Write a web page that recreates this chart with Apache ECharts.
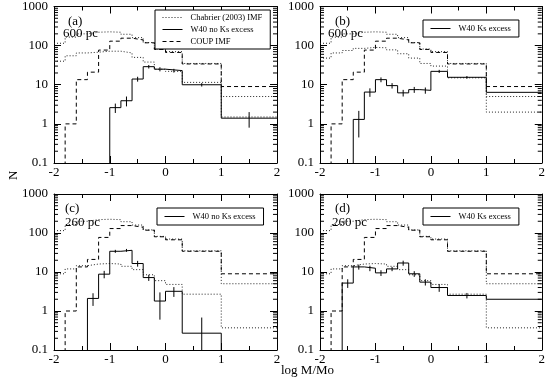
<!DOCTYPE html>
<html><head><meta charset="utf-8">
<script src="https://cdn.jsdelivr.net/npm/echarts@6/dist/echarts.min.js"></script>
<style>html,body{margin:0;padding:0;background:#fff}#c{width:548px;height:385px}</style>
</head><body><div id="c"></div>
<script>
// bin edges (log M/Mo) and bin centres
const edges = [-2,-1.8,-1.6,-1.4,-1.2,-1.0,-0.8,-0.6,-0.4,-0.2,0,0.3,1,2];
const centers = [-1.9,-1.7,-1.5,-1.3,-1.1,-0.9,-0.7,-0.5,-0.3,-0.1,0.15,0.65,1.5];
// COUP IMF (dashed), same in all panels
const coupIMF = [0,1,13.5,21,77,130,155,140,118,80,67,34,9];
// Chabrier (2003) IMF scaled to COUP (upper dotted)
const chabrierCOUP = [115,165,200,220,225,220,195,160,120,82,70,35,5];
// Chabrier scaled to W40 samples (lower dotted)
const chabrierA = [40,55,65,68,72,72,65,50,38,25,22,11.5,1.5];
const chabrierB = [48,65,75,85,90,88,78,62,48,35,30,15,2];
const chabrierCD = [9,12,14.5,16,16.5,16,14,11.5,8.5,6,4.8,2.7,0.37];
// W40 histograms and error bars
const w40a = [0,0,0,0,0,2.6,3.9,14,29,25,23,10,1.4];
const w40aErr = [0,0,0,0,0,0.7,1.1,2,3,3,2.5,1,0.6];
const w40b = [0,0,0,1.3,6.5,13.5,9.5,6.2,7.5,7.2,22,15.5,6.4];
const w40bErr = [0,0,0,0.85,1.6,1.9,1.5,1.2,1.3,1.3,2,1.2,0];
const w40c = [0,0,0,2.1,8.8,34,36,16.5,7.2,1.8,3.2,0.27,0];
const w40cErr = [0,0,0,0.75,1.9,3,3,2.8,1.3,1.2,0.9,0.41,0];
const w40d = [0,0,5.2,13.5,12.5,9.5,12,17,9,5.5,4,2.5,2.0];
const w40dErr = [0,0,1.3,2,2,1.6,1.5,2.5,1.5,1,0.9,0.4,0];
// axis ticks
const xTicks = [-2,-1,0,1,2];
const yTicks = [0.1,1,10,100,1000];
const minorMult = [2,3,4,5,6,7,8,9];

const panelNames = ['(a)','(b)','(c)','(d)'];
const panelDist = ['600 pc','600 pc','260 pc','260 pc'];
const w40Names = ['W40 no Ks excess','W40 Ks excess','W40 no Ks excess','W40 Ks excess'];

const FONT = '"Liberation Serif","DejaVu Serif",serif';
const FLOOR = 1e-4;
const grids = [
  {left:54, top:6, width:223, height:157},
  {left:320, top:6, width:226, height:157},
  {left:54, top:194, width:223, height:156},
  {left:320, top:194, width:226, height:156}
];
const panels = [
  {w:w40a, e:w40aErr, low:chabrierA},
  {w:w40b, e:w40bErr, low:chabrierB},
  {w:w40c, e:w40cErr, low:chabrierCD},
  {w:w40d, e:w40dErr, low:chabrierCD}
];

function stepData(vals){
  return edges.map((x,i)=>[x, Math.max(vals[Math.min(i, vals.length-1)], FLOOR)]);
}
const minorVals = [];
for (let k=0;k<yTicks.length-1;k++) minorMult.forEach(m=>minorVals.push(yTicks[k]*m));

const xAxes=[], yAxes=[], series=[];
grids.forEach((g,gi)=>{
  const xBase = {type:'value', gridIndex:gi, min:xTicks[0], max:xTicks[xTicks.length-1], interval:1,
    axisLine:{show:true, onZero:false, lineStyle:{color:'#000', width:1}},
    axisTick:{show:true, inside:true, length:7, lineStyle:{color:'#000'}},
    minorTick:{show:true, splitNumber:2, length:4, lineStyle:{color:'#000'}},
    splitLine:{show:false}, minorSplitLine:{show:false}};
  xAxes.push(Object.assign({}, xBase, {position:'bottom',
    axisLabel:{show:true, margin:3, color:'#000', fontFamily:FONT, fontSize:13,
      formatter:v=>String(v)}}));
  xAxes.push(Object.assign({}, xBase, {position:'top', axisLabel:{show:false}}));
  const yBase = {type:'log', logBase:10, gridIndex:gi, min:yTicks[0], max:yTicks[yTicks.length-1],
    axisLine:{show:true, onZero:false, lineStyle:{color:'#000', width:1}},
    axisTick:{show:true, inside:true, length:7, lineStyle:{color:'#000'}},
    splitLine:{show:false}};
  yAxes.push(Object.assign({}, yBase, {position:'left',
    axisLabel:{show:true, margin:6, color:'#000', fontFamily:FONT, fontSize:13,
      formatter:v=>String(parseFloat((+v).toPrecision(3)))}}));
  yAxes.push(Object.assign({}, yBase, {position:'right', axisLabel:{show:false}}));
  const xi = gi*2, yi = gi*2;
  const p = panels[gi];
  series.push({name:'Chabrier (2003) IMF', type:'line', xAxisIndex:xi, yAxisIndex:yi, step:'end', symbol:'none',
    data:stepData(chabrierCOUP), lineStyle:{color:'#222', width:1, type:[1,2]}, itemStyle:{color:'#000'}, animation:false});
  series.push({name:'Chabrier (2003) IMF', type:'line', xAxisIndex:xi, yAxisIndex:yi, step:'end', symbol:'none',
    data:stepData(p.low), lineStyle:{color:'#222', width:1, type:[1,2]}, itemStyle:{color:'#000'}, animation:false});
  series.push({name:'COUP IMF', type:'line', xAxisIndex:xi, yAxisIndex:yi, step:'end', symbol:'none',
    data:stepData(coupIMF), lineStyle:{color:'#000', width:1, type:[4,3]}, itemStyle:{color:'#000'}, animation:false});
  series.push({name:w40Names[gi], type:'line', xAxisIndex:xi, yAxisIndex:yi, step:'end', symbol:'none',
    data:stepData(p.w), lineStyle:{color:'#000', width:1, type:'solid'}, itemStyle:{color:'#000'}, animation:false});
  const errData = [];
  centers.forEach((c,i)=>{ if (p.w[i]>0 && p.e[i]>0) errData.push([c, p.w[i], p.e[i]]); });
  series.push({type:'custom', xAxisIndex:xi, yAxisIndex:yi, clip:true, silent:true, animation:false,
    encode:{x:0, y:1}, data:errData,
    renderItem:(params, api)=>{
      const c=api.value(0), v=api.value(1), e=api.value(2);
      const a=api.coord([c, Math.max(v-e, FLOOR)]), b=api.coord([c, v+e]);
      return {type:'line', shape:{x1:a[0], y1:a[1], x2:b[0], y2:b[1]}, style:{stroke:'#000', lineWidth:1}};
    }});
  series.push({type:'custom', xAxisIndex:xi, yAxisIndex:yi, silent:true, animation:false,
    encode:{x:0, y:1}, data:minorVals.map(v=>[xTicks[0], v]),
    renderItem:(params, api)=>{
      const v=api.value(1);
      const l=api.coord([xTicks[0], v]), r=api.coord([xTicks[xTicks.length-1], v]);
      return {type:'group', children:[
        {type:'line', shape:{x1:l[0], y1:l[1], x2:l[0]+4, y2:l[1]}, style:{stroke:'#000', lineWidth:1}},
        {type:'line', shape:{x1:r[0]-4, y1:r[1], x2:r[0], y2:r[1]}, style:{stroke:'#000', lineWidth:1}}
      ]};
    }});
});

const legBase = {orient:'vertical', borderColor:'#000', borderWidth:1, borderRadius:0, backgroundColor:'#fff',
  itemWidth:20, itemHeight:8, itemGap:3, padding:[3,8,3,7], selectedMode:false,
  itemStyle:{opacity:0},
  lineStyle:{width:1},
  textStyle:{fontFamily:FONT, fontSize:8.5, color:'#000', padding:[0,0,0,3]}};
const legends = [
  Object.assign({}, legBase, {left:155, top:10, data:['Chabrier (2003) IMF','W40 no Ks excess','COUP IMF']}),
  Object.assign({}, legBase, {left:423, top:20, padding:[4,8,4,7], data:['W40 Ks excess']}),
  Object.assign({}, legBase, {left:157, top:208, padding:[4,8,4,7], data:['W40 no Ks excess']}),
  Object.assign({}, legBase, {left:423, top:208, padding:[4,8,4,7], data:['W40 Ks excess']})
];

const labelPos = [[68,15],[335,15],[65,202],[335,202]];
const distPos = [[63,27],[328,27],[65,216],[332,216]];
const graphics = [];
grids.forEach((g,gi)=>{
  graphics.push({type:'text', left:labelPos[gi][0], top:labelPos[gi][1], z:100,
    style:{text:panelNames[gi], font:'13px '+FONT, fill:'#000'}});
  graphics.push({type:'text', left:distPos[gi][0], top:distPos[gi][1], z:100,
    style:{text:panelDist[gi], font:'13px '+FONT, fill:'#000'}});
});
graphics.push({type:'text', x:7, y:180, rotation:Math.PI/2, z:100,
  style:{text:'N', font:'13px '+FONT, fill:'#000'}});
graphics.push({type:'text', left:281, top:364, z:100,
  style:{text:'log M/Mo', font:'13px '+FONT, fill:'#000'}});

const chart = echarts.init(document.getElementById('c'), null, {renderer:'canvas'});
chart.setOption({
  animation:false,
  backgroundColor:'#fff',
  grid:grids,
  xAxis:xAxes,
  yAxis:yAxes,
  legend:legends,
  series:series,
  graphic:graphics
});
</script></body></html>
